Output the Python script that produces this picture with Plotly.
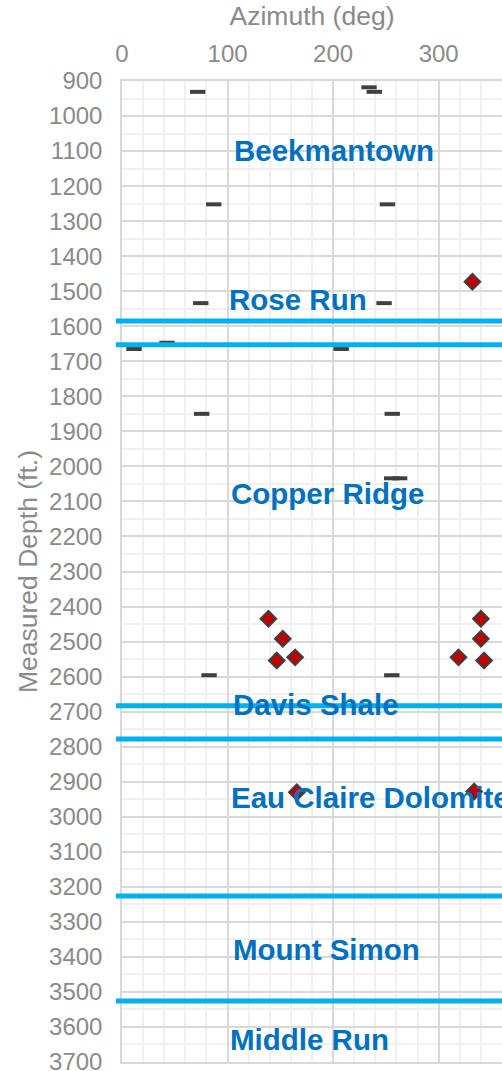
import plotly.graph_objects as go

# ---- data ----
dash_az = [71.7, 234, 239, 86.9, 251.5, 74.6, 248.3, 11.4, 42.6, 207.6, 75.5, 256, 255.5, 263, 82.5, 255.6]
dash_md = [931, 918, 931, 1252, 1252, 1534, 1534, 1665, 1647, 1665, 1850, 1850, 2034, 2034, 2596, 2596]

diamond_az = [332, 138.7, 152.3, 146.6, 164, 340, 340, 318.8, 343, 165.6, 333.6]
diamond_md = [1473, 2435, 2492, 2554, 2545, 2435, 2492, 2545, 2554, 2930, 2928]

formation_tops = [1585, 1653, 2683, 2778, 3226, 3526]

label_names = ["Beekmantown", "Rose Run", "Copper Ridge", "Davis Shale",
               "Eau Claire Dolomite", "Mount Simon", "Middle Run"]
label_az = [104, 99.5, 101.5, 103.5, 101.5, 103.5, 100.5]
label_md = [1097, 1524, 2076, 2681, 2944, 3380, 3635]

x_ticks = [0, 100, 200, 300]
y_ticks = list(range(900, 3701, 100))

FONT = "Liberation Sans, Arial, sans-serif"
GRAY = "#8a8a8a"

fig = go.Figure()

fig.add_trace(go.Scatter(
    x=dash_az, y=dash_md, mode="markers",
    marker=dict(symbol="line-ew", size=11, line=dict(width=4, color="#404040"), color="#404040"),
    showlegend=False, hoverinfo="skip"))

fig.add_trace(go.Scatter(
    x=diamond_az, y=diamond_md, mode="markers",
    marker=dict(symbol="diamond", size=12, color="#C00000", line=dict(width=2, color="#404040")),
    showlegend=False, hoverinfo="skip"))

for md in formation_tops:
    fig.add_shape(type="line", xref="paper", yref="y", x0=-0.016, x1=1.0, y0=md, y1=md,
                  line=dict(color="#00B0F0", width=5), layer="above")

for name, az, md in zip(label_names, label_az, label_md):
    fig.add_annotation(x=az, y=md, xref="x", yref="y", text="<b>%s</b>" % name,
                       showarrow=False, xanchor="left", yanchor="middle",
                       font=dict(family=FONT, size=29.5, color="#0070C0"))

fig.update_layout(
    width=502, height=1071,
    margin=dict(l=122, r=0, t=81, b=9, autoexpand=False),
    paper_bgcolor="white", plot_bgcolor="white",
    font=dict(family=FONT, color=GRAY),
    showlegend=False,
)

fig.update_xaxes(
    side="top", range=[0, 360], tickvals=x_ticks, ticktext=[str(v) for v in x_ticks],
    tickfont=dict(size=24, color=GRAY), ticks="", ticklabelstandoff=8,
    ticklabeloverflow="allow", automargin=False,
    title=dict(text="Azimuth (deg)", font=dict(size=26.5, color=GRAY), standoff=6),
    showgrid=True, gridcolor="#d9d9d9", gridwidth=1.5,
    minor=dict(dtick=20, showgrid=True, gridcolor="#f0f0f0", gridwidth=1.5),
    showline=True, linecolor="#d9d9d9", linewidth=1.5, mirror=True, zeroline=False,
)

fig.update_yaxes(
    range=[3700, 900], tickvals=y_ticks, ticktext=[str(v) for v in y_ticks],
    tickfont=dict(size=24, color=GRAY), ticks="", ticklabelstandoff=13,
    ticklabeloverflow="allow", automargin=False,
    title=dict(text="Measured Depth (ft.)", font=dict(size=26.5, color=GRAY), standoff=4),
    showgrid=True, gridcolor="#d9d9d9", gridwidth=1.5,
    minor=dict(dtick=50, showgrid=True, gridcolor="#f0f0f0", gridwidth=1.5),
    showline=True, linecolor="#d9d9d9", linewidth=1.5, mirror=True, zeroline=False,
)

fig.write_html("out.html", config={"displayModeBar": False},
               post_script="document.body.style.margin='0px';document.body.style.overflow='hidden';")
